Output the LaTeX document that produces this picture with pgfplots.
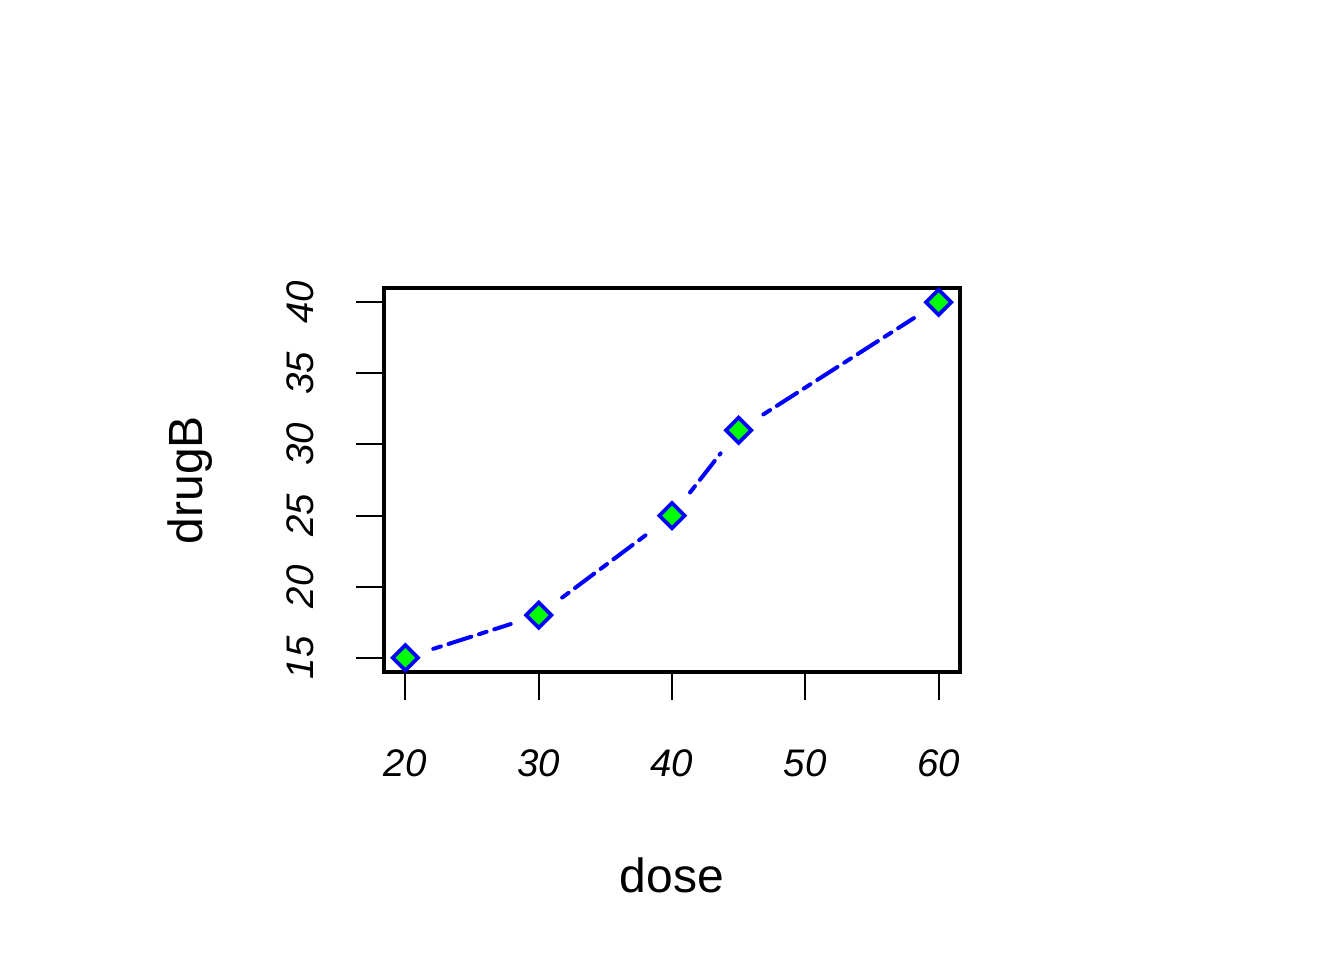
\documentclass[border=0pt]{standalone}
\usepackage{fontspec}
\setmainfont{Liberation Sans}
\usepackage{pgfplots}
\usepackage{pgfplotstable}
\pgfplotsset{compat=1.18}
\definecolor{rgreen}{RGB}{0,255,0}
\definecolor{rblue}{RGB}{0,0,255}
\pgfplotstableread{
x y
20 15
30 18
40 25
45 31
60 40
}\drugdata
\begin{document}
\begin{tikzpicture}
\path[use as bounding box] (-144pt,-108pt) rectangle (360pt,252pt);
\begin{axis}[
 at={(0,0)}, anchor=south west,
 scale only axis, width=216pt, height=144pt,
 xmin=18.4, xmax=61.6, ymin=14, ymax=41,
 xtick={20,30,40,50,60}, ytick={15,20,25,30,35,40},
 xtick pos=bottom, ytick pos=left,
 tick align=outside, major tick length=10.5pt,
 every tick/.style={black, line width=0.75pt},
 axis line style={line width=1.2pt},
 /pgf/number format/assume math mode=true,
 ticklabel style={font=\fontsize{14.4}{16}\selectfont\itshape},
 xticklabel style={anchor=base, yshift=-28.6pt},
 yticklabel style={xshift=-16.1pt, rotate=90, anchor=base},
 xlabel={dose}, ylabel={drugB},
 label style={font=\fontsize{18}{20}\selectfont},
 xlabel style={at={(axis description cs:0.5,-0.5729)}, anchor=base},
 ylabel style={at={(axis description cs:-0.3148,0.5)}, anchor=base},
 seg/.style={rblue, line width=1.5pt, line cap=round, dash pattern=on 3pt off 3pt on 9pt off 3pt, shorten <=11pt, shorten >=11pt},
]
\addplot[seg] coordinates {(20,15) (30,18)};
\addplot[seg] coordinates {(30,18) (40,25)};
\addplot[seg] coordinates {(40,25) (45,31)};
\addplot[seg] coordinates {(45,31) (60,40)};
\addplot[only marks, mark=square*, mark size=3.35pt, mark options={rotate=45, fill=rgreen, draw=rblue, line width=1.4pt, solid}] table[x=x,y=y] {\drugdata};
\end{axis}
\end{tikzpicture}
\end{document}
